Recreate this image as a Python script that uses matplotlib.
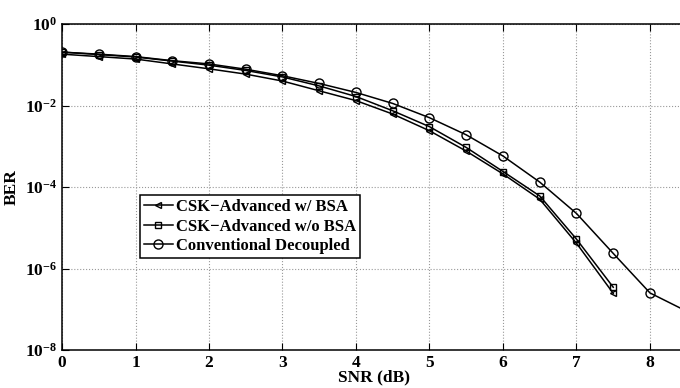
import numpy as np
import matplotlib
matplotlib.use("Agg")
import matplotlib.pyplot as plt
from matplotlib.ticker import FixedLocator, FuncFormatter, NullLocator

plt.rcParams['font.family'] = 'Liberation Serif'
plt.rcParams['font.weight'] = 'bold'
plt.rcParams['mathtext.fontset'] = 'custom'
plt.rcParams['mathtext.rm'] = 'Liberation Serif:bold'
plt.rcParams['mathtext.bf'] = 'Liberation Serif:bold'
plt.rcParams['mathtext.it'] = 'Liberation Serif:bold'

# data (log10 of BER)
snr = [0, 0.5, 1, 1.5, 2, 2.5, 3, 3.5, 4, 4.5, 5, 5.5, 6, 6.5, 7, 7.5]
snr_conv = snr + [8, 8.5]
log_bsa = [-0.74, -0.80, -0.86, -0.98, -1.10, -1.23, -1.40, -1.64,
           -1.88, -2.21, -2.62, -3.12, -3.68, -4.30, -5.38, -6.61]
log_nobsa = [-0.69, -0.75, -0.81, -0.91, -1.01, -1.14, -1.30, -1.52,
             -1.78, -2.13, -2.52, -3.03, -3.62, -4.22, -5.28, -6.46]
log_conv = [-0.69, -0.74, -0.80, -0.90, -0.98, -1.11, -1.27, -1.46,
            -1.68, -1.95, -2.30, -2.72, -3.24, -3.88, -4.65, -5.63,
            -6.60, -7.05]

ber_bsa = 10 ** np.array(log_bsa)
ber_nobsa = 10 ** np.array(log_nobsa)
ber_conv = 10 ** np.array(log_conv)

fig = plt.figure(figsize=(6.8, 3.88), dpi=100)
ax = fig.add_axes([62 / 680, 38 / 388, 624.75 / 680, 326 / 388])

ax.semilogy(snr, ber_bsa, 'k-', marker='<', ms=5, mfc='none', mew=1.0, lw=1.1,
            label='CSK\u2212Advanced w/ BSA')
ax.semilogy(snr, ber_nobsa, 'k-', marker='s', ms=5, mfc='none', mew=1.0, lw=1.1,
            label='CSK\u2212Advanced w/o BSA')
ax.semilogy(snr_conv, ber_conv, 'k-', marker='o', ms=6.5, mfc='none', mew=1.0, lw=1.1,
            label='Conventional Decoupled')

ax.set_xlim(0, 8.5)
ax.set_ylim(1e-8, 1)
ax.xaxis.set_major_locator(FixedLocator(range(0, 9)))
ax.yaxis.set_major_locator(FixedLocator([1e-8, 1e-6, 1e-4, 1e-2, 1]))
ax.yaxis.set_minor_locator(NullLocator())
ax.yaxis.set_major_formatter(FuncFormatter(lambda v, p: r'$10^{%d}$' % round(np.log10(v))))
ax.tick_params(direction='in', top=True, right=True, labelsize=12.5, length=5, width=0.8)
for lab in ax.get_xticklabels():
    lab.set_fontweight('bold')

ax.grid(True, ls=':', color='#999999', lw=0.8)
for s in ax.spines.values():
    s.set_linewidth(1.1)

ax.set_xlabel('SNR (dB)', fontsize=12.5, fontweight='bold', labelpad=-1)
ax.set_ylabel('BER', fontsize=12.5, fontweight='bold', labelpad=4)

leg = ax.legend(loc='upper left', bbox_to_anchor=(0.125, 0.475), fontsize=12,
                frameon=True, fancybox=False, edgecolor='black', framealpha=1,
                handlelength=1.7, handletextpad=0.2, labelspacing=0.2,
                borderpad=0.25, borderaxespad=0)
leg.get_frame().set_linewidth(1.1)
for t in leg.get_texts():
    t.set_fontweight('bold')

fig.savefig('out.png', dpi=100)
